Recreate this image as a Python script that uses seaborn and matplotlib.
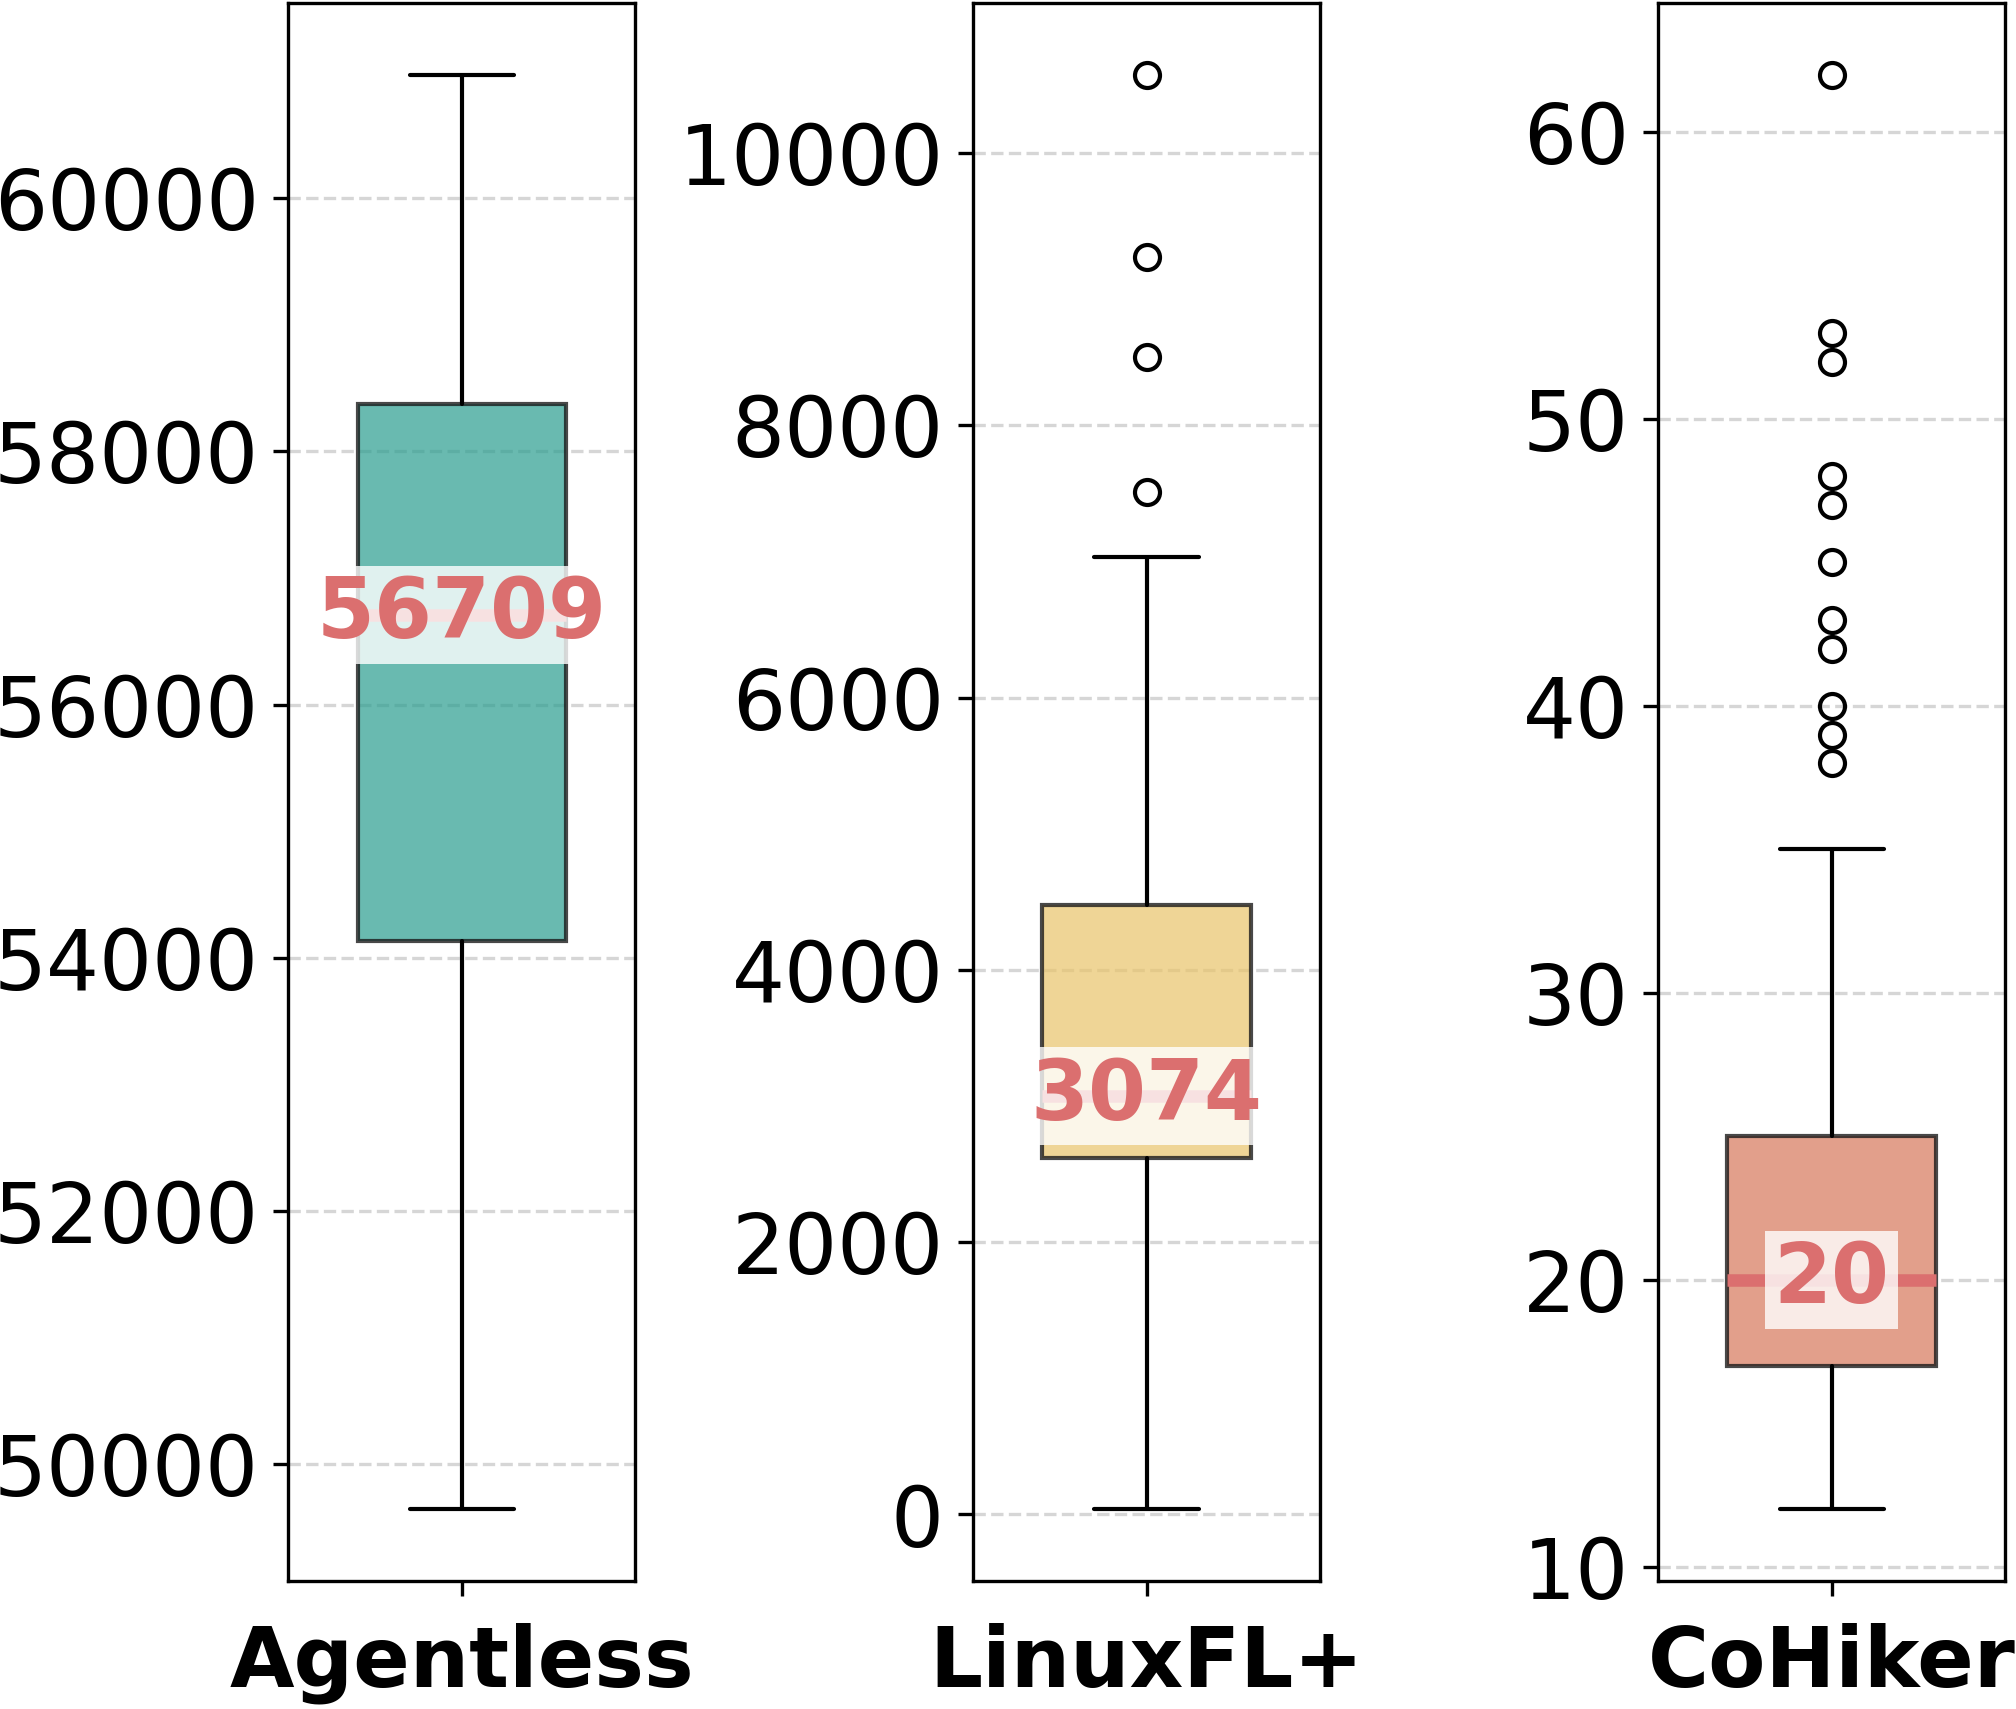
import numpy as np
import seaborn as sns
from matplotlib import pyplot as plt
from matplotlib.colors import to_rgba

sns.set_style("ticks")
plt.rcParams["font.family"] = ["DejaVu Sans"]
plt.rcParams["text.color"] = "black"
plt.rcParams["xtick.color"] = "black"
plt.rcParams["ytick.color"] = "black"
plt.rcParams["axes.labelcolor"] = "black"

# values (summary stats per tool)
tools = ["Agentless", "LinuxFL+", "CoHiker"]
medians = [56709, 3074, 20]
q1s = [54130, 2620, 17]
q3s = [58370, 4477, 25]
whis_lo = [49645, 38, 12]
whis_hi = [60974, 7031, 35]
outliers = [
    [],
    [7512, 8501, 9236, 10575],
    [38, 39, 40, 42, 43, 45, 47, 48, 52, 53, 62],
]
colors = ["#2a9d8f", "#e9c46a", "#d7765a"]
MED_COLOR = "#db6f6f"

fig = plt.figure(figsize=(6.72, 5.697), dpi=300)
lefts = [0.1429, 0.4826, 0.8224]

for i, t in enumerate(tools):
    ax = fig.add_axes([lefts[i], 0.0749, 0.1723, 0.9233])
    st = dict(med=medians[i], q1=q1s[i], q3=q3s[i],
              whislo=whis_lo[i], whishi=whis_hi[i],
              fliers=outliers[i], label=t)
    ax.bxp([st], positions=[0], widths=0.6, patch_artist=True,
           boxprops=dict(facecolor=to_rgba(colors[i], 0.7),
                         edgecolor=(0.1, 0.1, 0.1, 0.8), linewidth=1),
           medianprops=dict(color=MED_COLOR, linewidth=3),
           whiskerprops=dict(color="black", linewidth=1),
           capprops=dict(color="black", linewidth=1),
           flierprops=dict(marker="o", markerfacecolor="none",
                           markeredgecolor="black", markersize=6,
                           markeredgewidth=1))
    ax.text(0, medians[i], f"{medians[i]}", ha="center", va="center",
            fontsize=20, fontweight="bold", color=MED_COLOR, zorder=5,
            bbox=dict(facecolor="white", alpha=0.8, edgecolor="none", pad=2))
    ax.set_xlim(-0.5, 0.5)
    ax.set_xticks([0])
    ax.set_xticklabels([t], fontsize=20, fontweight="bold")
    ax.tick_params(axis="x", pad=6.5)
    ax.tick_params(axis="y", labelsize=20)
    ax.yaxis.grid(True, linestyle="--", color="#cccccc", alpha=0.8, linewidth=0.8)
    ax.set_axisbelow(True)
    for s in ax.spines.values():
        s.set_color("black")
        s.set_linewidth(0.8)

fig.savefig("out.png", dpi=300)
